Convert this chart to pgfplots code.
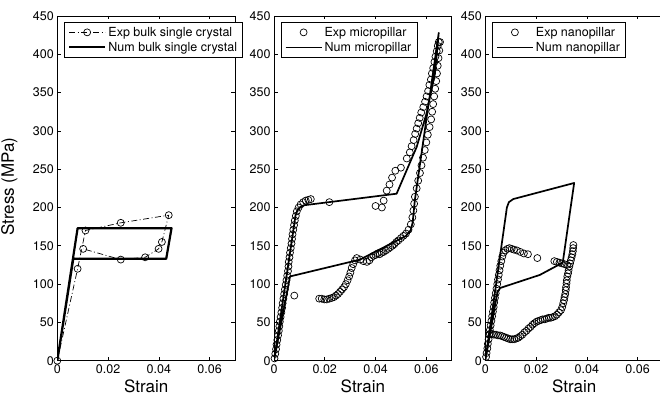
\documentclass[border=0pt]{standalone}
\usepackage{pgfplots}
\pgfplotsset{compat=1.18}
\usepackage{fontspec}
\setmainfont{TeX Gyre Heros}

\pgfplotsset{
 myaxis/.style={
  scale only axis, width=177.7pt, height=344.7pt, anchor=south west,
  xmin=0,xmax=0.07,ymin=0,ymax=450,
  scaled x ticks=false, scaled y ticks=false,
  xtick={0,0.02,0.04,0.06}, xticklabels={0,0.02,0.04,0.06},
  ytick={0,50,...,450}, yticklabels={0,50,100,150,200,250,300,350,400,450},
  tick align=inside, major tick length=3.5pt,
  axis line style={line width=0.9pt},
  tick style={line width=0.6pt, black},
  tick label style={font=\fontsize{12.5}{14}\selectfont},
  xlabel={Strain},
  xlabel style={font=\fontsize{17}{20}\selectfont, at={(axis description cs:0.5,-0.075)}, anchor=center},
  legend style={at={(0.038,0.983)}, anchor=north west, font=\fontsize{12.5}{14}\selectfont,
    draw=black, line width=1pt, inner xsep=3.5pt, inner ysep=2.5pt, nodes={inner sep=2.2pt}},
  legend cell align=left,
  legend image code/.code={\draw[mark repeat=2,mark phase=2,##1] plot coordinates {(0pt,0pt) (18pt,0pt) (36pt,0pt)};},
 },
 expmark/.style={only marks, mark=o, mark size=3.5pt, mark options={line width=0.7pt, black}},
 numline/.style={black, line width=1.7pt, line join=round, no marks},
}

\begin{document}
\begin{tikzpicture}
\path[use as bounding box] (0pt,0pt) rectangle (660pt,396pt);

% ---------- Panel 1 ----------
\begin{axis}[myaxis, at={(57.3pt,35.3pt)},
  ylabel={Stress (MPa)},
  ylabel style={font=\fontsize{17}{20}\selectfont, at={(axis description cs:-0.27,0.505)}, anchor=center}]
\addplot[black, line width=0.7pt, dash pattern=on 6pt off 2.5pt on 1pt off 2.5pt,
  mark=o, mark size=3.5pt, mark options={solid, line width=0.7pt}] coordinates {
(0,0) (0.0080,120) (0.0111,170) (0.0250,180) (0.0439,190) (0.0412,155)
(0.0399,146) (0.0346,135) (0.0250,132) (0.0102,146)
};
\addlegendentry{Exp bulk single crystal}
\addplot[numline, line width=2.2pt] coordinates {
(0,0) (0.0080,173) (0.0450,173) (0.0429,133) (0.0063,133) (0,0)
};
\addlegendentry{Num bulk single crystal}
\end{axis}

% ---------- Panel 2 ----------
\begin{axis}[myaxis, at={(274pt,35.3pt)}]
\addplot[expmark] coordinates {
(0.0002,3) (0.0005,9) (0.0008,15) (0.0010,21) (0.0013,27) (0.0016,33) (0.0019,39)
(0.0021,45) (0.0023,51) (0.0026,57) (0.0029,63) (0.0032,69) (0.0034,75) (0.0037,81)
(0.0040,87) (0.0043,93) (0.0046,99) (0.0049,105) (0.0052,111) (0.0055,117) (0.0057,123)
(0.0058,129) (0.0061,135) (0.0063,141) (0.0066,147) (0.0069,153) (0.0071,159) (0.0073,165)
(0.0076,171) (0.0079,177) (0.0082,183) (0.0086,189) (0.0090,195) (0.0097,200) (0.0105,204)
(0.0115,207) (0.0125,209) (0.0135,210) (0.0145,211)
(0.0080,85) (0.0218,207)
(0.0400,202) (0.0425,200) (0.0432,209)
(0.0444,222) (0.0455,230) (0.0465,239) (0.0478,248) (0.0500,252) (0.0523,264) (0.0535,272)
(0.0542,280) (0.0550,288) (0.0556,296) (0.0562,303) (0.0568,310) (0.0574,317) (0.0580,324)
(0.0588,331) (0.0595,338) (0.0601,345) (0.0607,352) (0.0612,360) (0.0618,367) (0.0622,375)
(0.0627,382) (0.0632,390) (0.0636,397) (0.0641,404) (0.0645,411) (0.0649,416)
(0.0654,416) (0.0651,405) (0.0648,395) (0.0645,385) (0.0642,375) (0.0639,365) (0.0635,355)
(0.0631,345) (0.0627,335) (0.0623,325) (0.0619,315) (0.0613,305) (0.0606,295) (0.0600,285)
(0.0594,275) (0.0587,265) (0.0581,255) (0.0575,245) (0.0568,235) (0.0562,225) (0.0555,214)
(0.0552,205) (0.0549,196) (0.0545,187) (0.0539,178) (0.0530,171)
(0.0520,166) (0.0510,163) (0.0500,160) (0.0490,157) (0.0482,155) (0.0474,152) (0.0466,150)
(0.0458,148) (0.0450,146) (0.0441,144) (0.0432,142) (0.0424,141) (0.0416,139) (0.0408,140)
(0.0400,138) (0.0392,137) (0.0384,135) (0.0376,131) (0.0366,129) (0.0352,130) (0.0340,132)
(0.0326,134) (0.0319,131) (0.0312,126) (0.0306,121) (0.0301,115) (0.0296,110) (0.0290,105)
(0.0283,100) (0.0276,96) (0.0268,93) (0.0260,90) (0.0252,87) (0.0244,85) (0.0236,83)
(0.0228,82) (0.0218,81) (0.0208,80) (0.0198,80) (0.0188,81) (0.0178,81)
};
\addlegendentry{Exp micropillar}
\addplot[numline] coordinates {
(0,0) (0.0085,190) (0.0093,197) (0.0105,201) (0.0120,203) (0.0483,218) (0.0523,249)
(0.0562,279) (0.0601,323) (0.0634,375) (0.0649,428) (0.0555,210) (0.0546,180)
(0.0538,170) (0.0520,163) (0.0339,132) (0.0063,110) (0,0)
};
\addlegendentry{Num micropillar}
\end{axis}

% ---------- Panel 3 ----------
\begin{axis}[myaxis, at={(485.3pt,35.3pt)}]
\addplot[expmark] coordinates {
(0.0003,5) (0.0005,10) (0.0008,16) (0.0010,22) (0.0013,28) (0.0015,34) (0.0018,40)
(0.0021,46) (0.0024,52) (0.0027,58) (0.0030,64) (0.0033,70) (0.0035,76) (0.0038,82)
(0.0041,88) (0.0044,94) (0.0047,100) (0.0050,106) (0.0053,112) (0.0056,118) (0.0059,124)
(0.0063,130) (0.0067,136) (0.0072,141) (0.0079,144) (0.0087,146) (0.0095,147) (0.0104,146)
(0.0113,145) (0.0124,144) (0.0138,142) (0.0152,140) (0.0168,139) (0.0205,134) (0.0272,130)
(0.0282,129) (0.0292,128) (0.0302,127) (0.0312,126) (0.0322,125)
(0.0347,151) (0.0346,147) (0.0345,143) (0.0343,139) (0.0340,135) (0.0337,131) (0.0334,127)
(0.0331,123) (0.0328,118) (0.0326,114) (0.0323,110) (0.0321,105) (0.0320,101) (0.0318,96)
(0.0317,92) (0.0315,87) (0.0312,83) (0.0310,79) (0.0307,75) (0.0303,70) (0.0298,66)
(0.0290,63) (0.0282,60) (0.0274,58) (0.0266,57) (0.0258,56) (0.0250,56) (0.0242,55)
(0.0234,54) (0.0226,54) (0.0218,53) (0.0210,52) (0.0202,51) (0.0194,49) (0.0186,47)
(0.0178,44) (0.0170,42) (0.0162,39) (0.0154,37) (0.0146,34) (0.0138,32) (0.0130,30)
(0.0122,29) (0.0114,28) (0.0106,28) (0.0098,28) (0.0090,29) (0.0082,30) (0.0074,31)
(0.0066,32) (0.0058,33) (0.0050,33) (0.0042,34) (0.0034,34) (0.0026,35) (0.0018,35)
};
\addlegendentry{Exp nanopillar}
\addplot[numline] coordinates {
(0,0) (0.0085,200) (0.0093,207) (0.0110,211) (0.0350,232) (0.0305,128) (0.0215,112)
(0.0059,95) (0.0048,90) (0,0)
};
\addlegendentry{Num nanopillar}
\end{axis}
\end{tikzpicture}
\end{document}
